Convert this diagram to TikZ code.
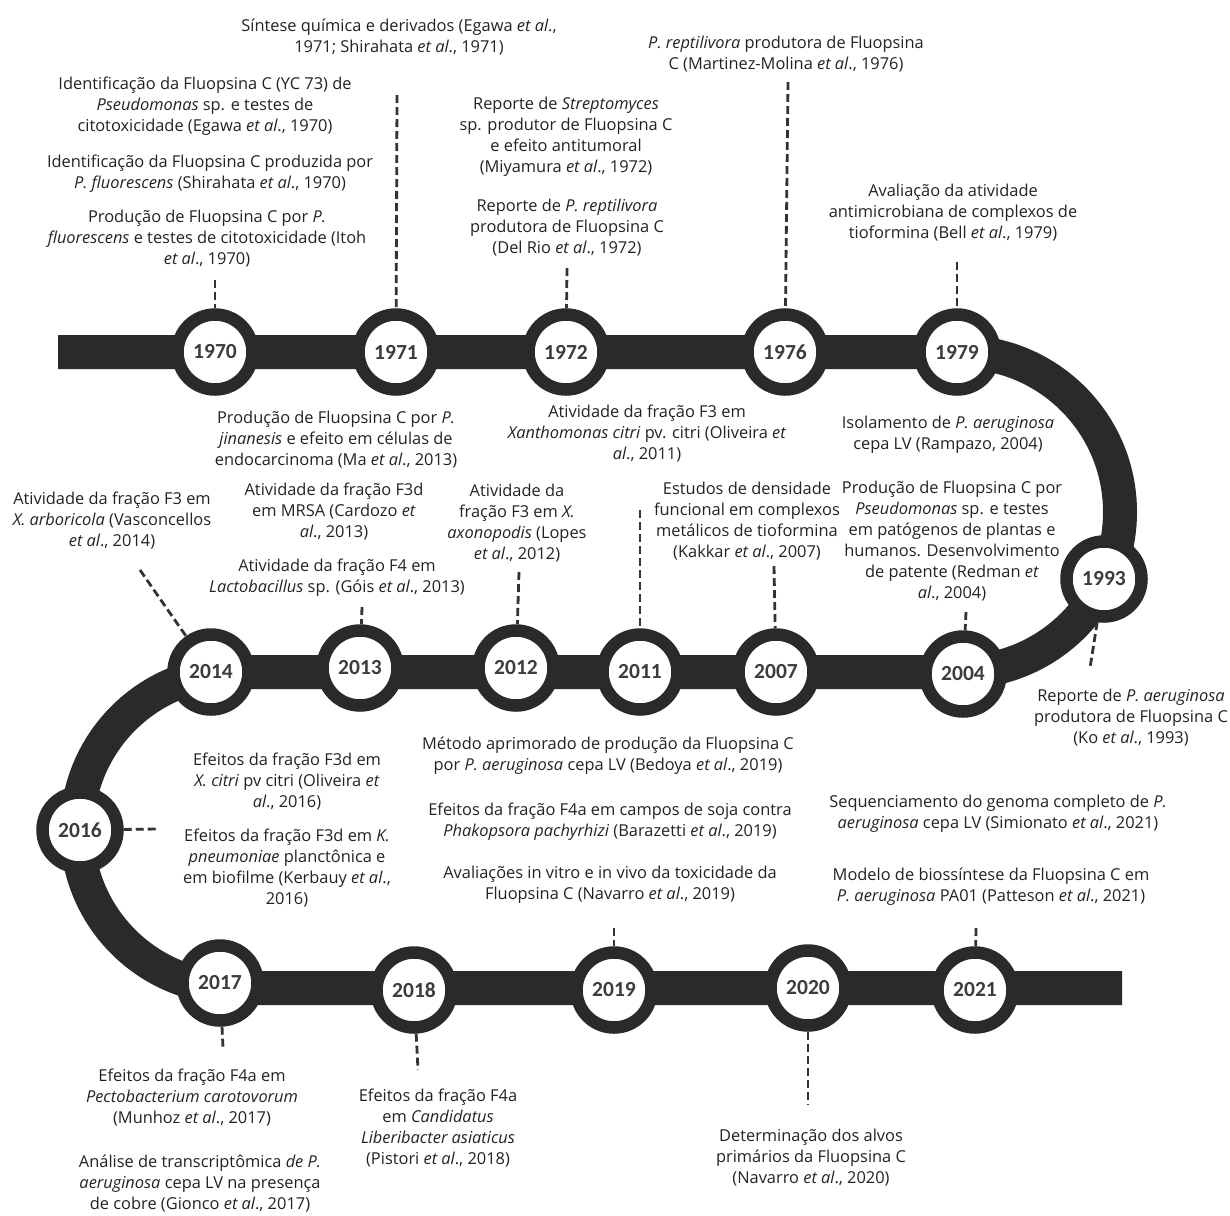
\documentclass[tikz,border=0pt]{standalone}
\usepackage{fontspec}
\setmainfont{Open Sans}
\newfontfamily\yearfont{Carlito}
\definecolor{barcol}{HTML}{2A2A2A}
\definecolor{yearcol}{HTML}{3C3C3C}
\definecolor{txtcol}{HTML}{222222}
\definecolor{dashcol}{HTML}{333333}
\tikzset{
  yr/.style={circle, draw=barcol, line width=12.5pt, fill=white, minimum size=75pt, inner sep=0pt,
    font=\yearfont\bfseries\fontsize{21.5}{21}\selectfont, text=yearcol},
  txt/.style={align=center, inner sep=0pt, text=txtcol, font=\fontsize{16.4}{21}\selectfont},
  dline/.style={draw=dashcol, line width=2.8pt, dash pattern=on 8pt off 4pt},
  backbone/.style={draw=barcol, line width=34pt}
}
\begin{document}
\begin{tikzpicture}[x=1pt,y=-1pt]
\useasboundingbox (0,0) rectangle (1230,1215);
% backbone
\draw[backbone] (58,352) -- (960,352) arc[start angle=-90, end angle=90, radius=160]
  -- (235,672) arc[start angle=-90, end angle=-270, radius=158] -- (1122,988);
% year circles
\node[yr] (y1970) at (215,352) {1970};
\node[yr] (y1971) at (396,352) {1971};
\node[yr] (y1972) at (566,352) {1972};
\node[yr] (y1976) at (785,352) {1976};
\node[yr] (y1979) at (957,352) {1979};
\node[yr] (y1993) at (1104,579) {1993};
\node[yr] (y2004) at (963,674) {2004};
\node[yr] (y2007) at (776,672) {2007};
\node[yr] (y2011) at (640,672) {2011};
\node[yr] (y2012) at (516,668) {2012};
\node[yr] (y2013) at (360,668) {2013};
\node[yr] (y2014) at (211,672) {2014};
\node[yr] (y2016) at (80,830) {2016};
\node[yr] (y2017) at (220,983) {2017};
\node[yr] (y2018) at (414,990) {2018};
\node[yr] (y2019) at (614,990) {2019};
\node[yr] (y2020) at (808,988) {2020};
\node[yr] (y2021) at (975,990) {2021};
% free ends of connectors
\coordinate (k1970) at (215,280);
\coordinate (k1971) at (397,95);
\coordinate (k1972) at (567,268);
\coordinate (k1976) at (788,82);
\coordinate (k1979) at (957,262);
\coordinate (k1993) at (1090,668);
\coordinate (k2004) at (966,612);
\coordinate (k2007) at (774,566);
\coordinate (k2011) at (640,510);
\coordinate (k2012) at (519,572);
\coordinate (k2013) at (362,607);
\coordinate (k2014) at (140,570);
\coordinate (k2016) at (158,829);
\coordinate (k2017) at (223,1048);
\coordinate (k2018) at (418,1070);
\coordinate (k2019) at (614,928);
\coordinate (k2020) at (808,1105);
\coordinate (k2021) at (976,928);
% connectors
\draw[dline] (k1970) -- (y1970);
\draw[dline] (k1971) -- (y1971);
\draw[dline] (k1972) -- (y1972);
\draw[dline] (k1976) -- (y1976);
\draw[dline] (k1979) -- (y1979);
\draw[dline] (y1993) -- (k1993);
\draw[dline] (k2004) -- (y2004);
\draw[dline] (k2007) -- (y2007);
\draw[dline] (k2011) -- (y2011);
\draw[dline] (k2012) -- (y2012);
\draw[dline] (k2013) -- (y2013);
\draw[dline] (k2014) -- (y2014);
\draw[dline] (y2016) -- (k2016);
\draw[dline] (y2017) -- (k2017);
\draw[dline] (y2018) -- (k2018);
\draw[dline] (k2019) -- (y2019);
\draw[dline] (y2020) -- (k2020);
\draw[dline] (k2021) -- (y2021);
% texts
\node[txt] (t1) at (399,37) {Síntese química e derivados (Egawa \textit{et al}.,\\1971; Shirahata \textit{et al}., 1971)};
\node[txt] (t2) at (205,106) {Identificação da Fluopsina C (YC 73) de\\\textit{Pseudomonas} sp. e testes de\\citotoxicidade (Egawa \textit{et al}., 1970)};
\node[txt] (t3) at (210,174) {Identificação da Fluopsina C produzida por\\\textit{P. fluorescens} (Shirahata \textit{et al}., 1970)};
\node[txt] (t4) at (207,239) {Produção de Fluopsina C por \textit{P.}\\\textit{fluorescens} e testes de citotoxicidade (Itoh\\\textit{et al}., 1970)};
\node[txt] (t5) at (566,137) {Reporte de \textit{Streptomyces}\\sp. produtor de Fluopsina C\\e efeito antitumoral\\(Miyamura \textit{et al}., 1972)};
\node[txt] (t6) at (567,228) {Reporte de \textit{P. reptilivora}\\produtora de Fluopsina C\\(Del Rio \textit{et al}., 1972)};
\node[txt] (t7) at (786,54) {\textit{P. reptilivora} produtora de Fluopsina\\C (Martinez-Molina \textit{et al}., 1976)};
\node[txt] (t8) at (953,213) {Avaliação da atividade\\antimicrobiana de complexos de\\tioformina (Bell \textit{et al}., 1979)};
\node[txt] (t9) at (336,440) {Produção de Fluopsina C por \textit{P.}\\\textit{jinanesis} e efeito em células de\\endocarcinoma (Ma \textit{et al}., 2013)};
\node[txt] (t10) at (647,434) {Atividade da fração F3 em\\\textit{Xanthomonas citri} pv. citri (Oliveira \textit{et}\\\textit{al}., 2011)};
\node[txt] (t11) at (948,435) {Isolamento de \textit{P. aeruginosa}\\cepa LV (Rampazo, 2004)};
\node[txt] (t12) at (112,521) {Atividade da fração F3 em\\\textit{X. arboricola} (Vasconcellos\\\textit{et al}., 2014)};
\node[txt] (t13) at (334,512) {Atividade da fração F3d\\em MRSA (Cardozo \textit{et}\\\textit{al}., 2013)};
\node[txt] (t14) at (517,523) {Atividade da\\fração F3 em \textit{X.}\\\textit{axonopodis} (Lopes\\\textit{et al}., 2012)};
\node[txt] (t15) at (337,578) {Atividade da fração F4 em\\\textit{Lactobacillus} sp. (Góis \textit{et al}., 2013)};
\node[txt] (t16) at (747,521) {Estudos de densidade\\funcional em complexos\\metálicos de tioformina\\(Kakkar \textit{et al}., 2007)};
\node[txt] (t17) at (952,541) {Produção de Fluopsina C por\\\textit{Pseudomonas} sp. e testes\\em patógenos de plantas e\\humanos. Desenvolvimento\\de patente (Redman \textit{et}\\\textit{al}., 2004)};
\node[txt] (t18) at (1131,718) {Reporte de \textit{P. aeruginosa}\\produtora de Fluopsina C\\(Ko \textit{et al}., 1993)};
\node[txt] (t19) at (608,756) {Método aprimorado de produção da Fluopsina C\\por \textit{P. aeruginosa} cepa LV (Bedoya \textit{et al}., 2019)};
\node[txt] (t20) at (610,822) {Efeitos da fração F4a em campos de soja contra\\\textit{Phakopsora pachyrhizi} (Barazetti \textit{et al}., 2019)};
\node[txt] (t21) at (610,885) {Avaliações in vitro e in vivo da toxicidade da\\Fluopsina C (Navarro \textit{et al}., 2019)};
\node[txt] (t22) at (998,814) {Sequenciamento do genoma completo de \textit{P.}\\\textit{aeruginosa} cepa LV (Simionato \textit{et al}., 2021)};
\node[txt] (t23) at (991,887) {Modelo de biossíntese da Fluopsina C em\\\textit{P. aeruginosa} PA01 (Patteson \textit{et al}., 2021)};
\node[txt] (t24) at (287,782) {Efeitos da fração F3d em\\\textit{X. citri} pv citri (Oliveira \textit{et}\\\textit{al}., 2016)};
\node[txt] (t25) at (287,868) {Efeitos da fração F3d em \textit{K.}\\\textit{pneumoniae} planctônica e\\em biofilme (Kerbauy \textit{et al}.,\\2016)};
\node[txt] (t26) at (192,1098) {Efeitos da fração F4a em\\\textit{Pectobacterium carotovorum}\\(Munhoz \textit{et al}., 2017)};
\node[txt] (t27) at (200,1183) {Análise de transcriptômica \textit{de P.}\\\textit{aeruginosa} cepa LV na presença\\de cobre (Gionco \textit{et al}., 2017)};
\node[txt] (t28) at (438,1128) {Efeitos da fração F4a\\em \textit{Candidatus}\\\textit{Liberibacter asiaticus}\\(Pistori \textit{et al}., 2018)};
\node[txt] (t29) at (811,1158) {Determinação dos alvos\\primários da Fluopsina C\\(Navarro \textit{et al}., 2020)};
\end{tikzpicture}
\end{document}
